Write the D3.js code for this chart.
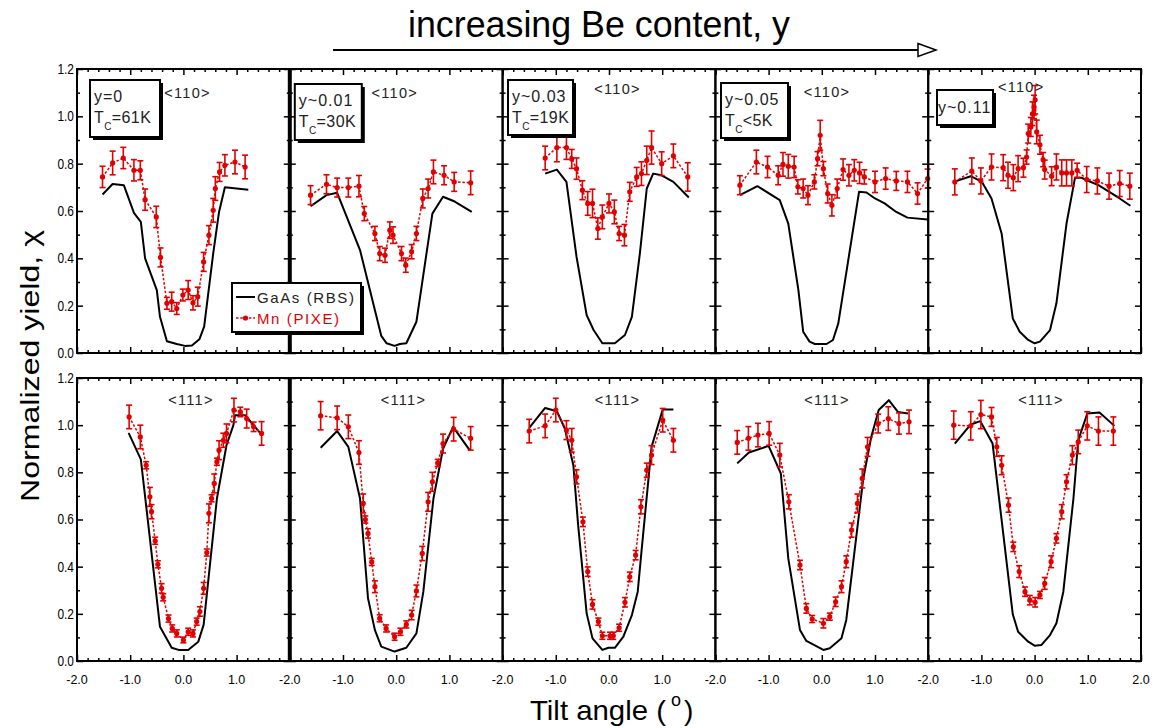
<!DOCTYPE html>
<html><head><meta charset="utf-8">
<script src="https://cdn.jsdelivr.net/npm/d3@7"></script>
<style>
body{margin:0;background:#fff}
svg{display:block;font-family:"Liberation Sans",Arial,sans-serif}
</style>
</head><body>
<svg id="chart" width="1162" height="728"></svg>
<script>
// ---------------- DATA ----------------
const yTickLabels = ["0.0","0.2","0.4","0.6","0.8","1.0","1.2"];
const xTickLabels = ["-2.0","-1.0","0.0","1.0","2.0"];
const compositions = ["y=0","y~0.01","y~0.03","y~0.05","y~0.11"];
const curieTemps = ["=61K","=30K","=19K","<5K",null];
const channels = ["<110>","<111>"];
const legendLabels = ["GaAs (RBS)","Mn (PIXE)"];

// <110> row : GaAs RBS [angle, yield]
const rbs110_y0   = [[-1.52,0.67],[-1.33,0.714],[-1.12,0.709],[-0.93,0.592],[-0.80,0.554],[-0.72,0.40],[-0.50,0.266],[-0.44,0.153],[-0.31,0.05],[-0.125,0.038],[0.03,0.03],[0.16,0.032],[0.30,0.058],[0.39,0.111],[0.56,0.42],[0.67,0.596],[0.78,0.70],[1.22,0.69]];
const rbs110_y001 = [[-1.61,0.62],[-1.31,0.667],[-1.11,0.677],[-0.68,0.435],[-0.40,0.181],[-0.28,0.072],[-0.18,0.041],[-0.03,0.03],[0.07,0.038],[0.19,0.041],[0.38,0.132],[0.68,0.589],[0.88,0.66],[1.10,0.64],[1.42,0.596]];
const rbs110_y003 = [[-1.20,0.758],[-0.98,0.775],[-0.80,0.723],[-0.61,0.406],[-0.42,0.16],[-0.29,0.097],[-0.125,0.041],[0.11,0.041],[0.30,0.076],[0.43,0.153],[0.58,0.42],[0.71,0.695],[0.83,0.758],[0.99,0.751],[1.21,0.723],[1.50,0.657]];
const rbs110_y005 = [[-1.54,0.667],[-1.21,0.705],[-0.79,0.646],[-0.63,0.547],[-0.44,0.266],[-0.35,0.09],[-0.23,0.048],[-0.13,0.038],[0.09,0.038],[0.21,0.055],[0.31,0.125],[0.70,0.681],[0.84,0.678],[1.00,0.653],[1.18,0.632],[1.40,0.596],[1.61,0.572],[1.99,0.564]];
const rbs110_y011 = [[-1.52,0.723],[-1.20,0.747],[-0.99,0.723],[-0.81,0.653],[-0.62,0.505],[-0.41,0.146],[-0.28,0.09],[-0.12,0.055],[0.0,0.041],[0.10,0.048],[0.29,0.097],[0.41,0.21],[0.60,0.547],[0.76,0.741],[0.88,0.741],[0.98,0.73],[1.20,0.709],[1.60,0.653],[1.80,0.622]];

// <110> row : Mn PIXE [angle, yield, error]
const pixe110_y0   = [[-1.52,0.744,0.045],[-1.33,0.803,0.05],[-1.13,0.824,0.045],[-0.93,0.772,0.045],[-0.81,0.772,0.04],[-0.72,0.648,0.045],[-0.51,0.575,0.045],[-0.43,0.404,0.04],[-0.31,0.21,0.025],[-0.22,0.217,0.04],[-0.125,0.188,0.025],[-0.01,0.245,0.025],[0.09,0.266,0.04],[0.18,0.212,0.03],[0.27,0.238,0.04],[0.38,0.385,0.04],[0.48,0.498,0.04],[0.56,0.603,0.05],[0.60,0.695,0.05],[0.68,0.765,0.04],[0.78,0.793,0.045],[0.97,0.807,0.05],[1.16,0.786,0.05]];
const pixe110_y001 = [[-1.61,0.667,0.04],[-1.31,0.713,0.04],[-1.11,0.699,0.04],[-0.90,0.699,0.04],[-0.70,0.705,0.045],[-0.60,0.589,0.03],[-0.40,0.505,0.03],[-0.31,0.42,0.03],[-0.21,0.413,0.03],[-0.12,0.519,0.035],[-0.06,0.498,0.035],[0.10,0.42,0.03],[0.18,0.371,0.03],[0.29,0.428,0.03],[0.38,0.505,0.03],[0.50,0.653,0.04],[0.60,0.695,0.04],[0.70,0.765,0.05],[0.90,0.751,0.04],[1.09,0.723,0.04],[1.40,0.719,0.05]];
const pixe110_y003 = [[-1.20,0.824,0.05],[-0.98,0.868,0.06],[-0.80,0.868,0.05],[-0.70,0.82,0.04],[-0.61,0.779,0.045],[-0.50,0.688,0.04],[-0.40,0.632,0.05],[-0.31,0.632,0.06],[-0.21,0.526,0.045],[-0.125,0.575,0.05],[0.0,0.632,0.04],[0.10,0.596,0.05],[0.19,0.505,0.03],[0.29,0.498,0.045],[0.39,0.681,0.04],[0.52,0.744,0.04],[0.61,0.758,0.05],[0.71,0.814,0.06],[0.80,0.868,0.07],[0.99,0.80,0.05],[1.21,0.833,0.05],[1.48,0.744,0.06]];
const pixe110_y005 = [[-1.54,0.709,0.04],[-1.23,0.807,0.05],[-1.02,0.786,0.045],[-0.82,0.751,0.04],[-0.73,0.797,0.05],[-0.63,0.789,0.05],[-0.52,0.786,0.045],[-0.45,0.702,0.03],[-0.35,0.695,0.04],[-0.26,0.667,0.04],[-0.14,0.723,0.03],[-0.08,0.821,0.03],[-0.03,0.92,0.063],[0.03,0.779,0.03],[0.11,0.674,0.04],[0.19,0.624,0.045],[0.29,0.695,0.04],[0.40,0.775,0.045],[0.51,0.751,0.045],[0.61,0.772,0.045],[0.71,0.761,0.045],[0.80,0.744,0.03],[1.00,0.723,0.045],[1.20,0.737,0.045],[1.40,0.727,0.04],[1.61,0.723,0.045],[1.80,0.674,0.045],[1.99,0.737,0.04]];
const pixe110_y011 = [[-1.50,0.723,0.055],[-1.18,0.769,0.055],[-1.01,0.727,0.055],[-0.81,0.786,0.055],[-0.59,0.783,0.055],[-0.50,0.751,0.055],[-0.40,0.741,0.055],[-0.31,0.779,0.055],[-0.21,0.783,0.04],[-0.15,0.828,0.03],[-0.12,0.927,0.04],[-0.07,0.955,0.04],[-0.04,1.011,0.05],[-0.01,1.039,0.05],[0.01,1.07,0.06],[0.04,0.934,0.05],[0.10,0.88,0.04],[0.16,0.817,0.03],[0.19,0.775,0.04],[0.32,0.747,0.04],[0.41,0.786,0.055],[0.51,0.761,0.055],[0.60,0.761,0.055],[0.70,0.761,0.055],[0.80,0.772,0.03],[0.98,0.733,0.055],[1.18,0.727,0.055],[1.40,0.705,0.055],[1.60,0.716,0.055],[1.79,0.705,0.055]];

// <111> row : GaAs RBS
const rbs111_y0   = [[-1.03,0.967],[-0.80,0.855],[-0.44,0.145],[-0.22,0.056],[-0.09,0.047],[0.09,0.047],[0.28,0.082],[0.38,0.153],[0.63,0.689],[0.81,0.915],[0.94,1.00],[0.97,1.042],[1.16,1.042],[1.47,0.96]];
const rbs111_y001 = [[-1.42,0.904],[-1.11,0.975],[-0.90,0.908],[-0.68,0.689],[-0.53,0.266],[-0.40,0.131],[-0.28,0.061],[-0.03,0.04],[0.19,0.056],[0.38,0.117],[0.51,0.294],[0.70,0.689],[0.88,0.90],[1.07,0.993],[1.38,0.894]];
const rbs111_y003 = [[-1.50,0.989],[-1.20,1.073],[-0.98,1.059],[-0.83,0.986],[-0.67,0.83],[-0.58,0.576],[-0.42,0.202],[-0.31,0.096],[-0.125,0.047],[-0.01,0.056],[0.11,0.056],[0.27,0.103],[0.43,0.195],[0.54,0.294],[0.61,0.463],[0.80,0.908],[1.01,1.066],[1.21,1.066]];
const rbs111_y005 = [[-1.59,0.838],[-1.37,0.884],[-1.00,0.912],[-0.77,0.795],[-0.63,0.435],[-0.41,0.131],[-0.29,0.085],[0.03,0.047],[0.15,0.054],[0.37,0.096],[0.46,0.174],[0.78,0.774],[0.93,0.951],[1.07,1.064],[1.26,1.106],[1.43,1.056],[1.62,1.049]];
const rbs111_y011 = [[-1.50,0.922],[-1.20,1.003],[-1.02,1.017],[-0.79,0.922],[-0.41,0.198],[-0.31,0.124],[-0.12,0.082],[0.0,0.065],[0.13,0.068],[0.29,0.11],[0.41,0.16],[0.54,0.294],[0.73,0.689],[0.82,0.936],[0.99,1.049],[1.22,1.054],[1.50,0.997]];

// <111> row : Mn PIXE
const pixe111_y0   = [[-1.02,1.035,0.05],[-0.81,0.95,0.05],[-0.70,0.83,0.015],[-0.63,0.696,0.04],[-0.60,0.633,0.03],[-0.53,0.51,0.015],[-0.48,0.41,0.015],[-0.41,0.308,0.02],[-0.38,0.27,0.015],[-0.28,0.18,0.015],[-0.21,0.138,0.015],[-0.125,0.117,0.015],[0.0,0.089,0.012],[0.09,0.124,0.015],[0.18,0.117,0.015],[0.25,0.167,0.015],[0.31,0.21,0.02],[0.38,0.308,0.025],[0.44,0.46,0.015],[0.48,0.626,0.04],[0.53,0.69,0.015],[0.58,0.753,0.04],[0.63,0.845,0.015],[0.67,0.894,0.04],[0.75,0.936,0.03],[0.81,0.965,0.04],[0.95,1.064,0.05],[1.07,1.056,0.02],[1.19,1.028,0.04],[1.32,0.993,0.02],[1.47,0.965,0.05]];
const pixe111_y001 = [[-1.42,1.04,0.06],[-1.11,1.031,0.05],[-0.90,0.993,0.05],[-0.70,0.884,0.05],[-0.62,0.668,0.04],[-0.58,0.60,0.015],[-0.53,0.541,0.02],[-0.46,0.42,0.015],[-0.40,0.315,0.025],[-0.31,0.181,0.015],[-0.19,0.138,0.015],[-0.03,0.103,0.015],[0.08,0.124,0.015],[0.19,0.155,0.015],[0.29,0.195,0.02],[0.38,0.297,0.025],[0.49,0.456,0.03],[0.60,0.675,0.04],[0.68,0.76,0.04],[0.78,0.84,0.015],[0.88,0.922,0.04],[1.08,0.983,0.05],[1.40,0.944,0.05]];
const pixe111_y003 = [[-1.50,0.975,0.05],[-1.20,0.997,0.05],[-1.00,1.064,0.05],[-0.80,0.979,0.04],[-0.70,0.936,0.05],[-0.61,0.781,0.03],[-0.49,0.59,0.02],[-0.40,0.379,0.02],[-0.31,0.24,0.02],[-0.20,0.167,0.015],[-0.125,0.107,0.015],[0.02,0.107,0.015],[0.08,0.107,0.015],[0.19,0.141,0.015],[0.30,0.249,0.02],[0.39,0.357,0.02],[0.50,0.449,0.02],[0.60,0.654,0.03],[0.71,0.809,0.03],[0.80,0.873,0.04],[1.01,1.021,0.05],[1.21,0.936,0.05]];
const pixe111_y005 = [[-1.59,0.927,0.05],[-1.38,0.944,0.05],[-1.20,0.958,0.05],[-0.99,0.965,0.05],[-0.79,0.873,0.05],[-0.62,0.675,0.03],[-0.41,0.407,0.02],[-0.29,0.223,0.02],[-0.18,0.178,0.015],[0.03,0.16,0.02],[0.15,0.188,0.015],[0.26,0.251,0.02],[0.37,0.315,0.025],[0.46,0.421,0.025],[0.56,0.555,0.03],[0.67,0.668,0.04],[0.76,0.774,0.04],[0.86,0.908,0.04],[1.06,1.007,0.04],[1.25,1.028,0.05],[1.45,1.007,0.045],[1.64,1.014,0.05]];
const pixe111_y011 = [[-1.52,1.0,0.06],[-1.20,0.997,0.06],[-1.01,1.045,0.06],[-0.81,1.035,0.04],[-0.71,0.908,0.04],[-0.62,0.83,0.04],[-0.49,0.661,0.03],[-0.40,0.484,0.02],[-0.29,0.379,0.025],[-0.18,0.294,0.02],[-0.09,0.258,0.02],[0.01,0.249,0.02],[0.10,0.28,0.015],[0.19,0.329,0.025],[0.31,0.421,0.025],[0.41,0.52,0.02],[0.51,0.633,0.03],[0.60,0.76,0.03],[0.71,0.873,0.04],[0.82,0.929,0.05],[0.99,0.997,0.06],[1.20,0.975,0.06],[1.48,0.975,0.06]];

// ---------------- LAYOUT ----------------
const svg = d3.select("#chart");
const RED = "#e00000";
const colLeft = 77, colW = 212.8;
const rowsPx = [{top:69,bottom:353},{top:378,bottom:661}];

const rbsSets  = [[rbs110_y0,rbs110_y001,rbs110_y003,rbs110_y005,rbs110_y011],[rbs111_y0,rbs111_y001,rbs111_y003,rbs111_y005,rbs111_y011]];
const pixeSets = [[pixe110_y0,pixe110_y001,pixe110_y003,pixe110_y005,pixe110_y011],[pixe111_y0,pixe111_y001,pixe111_y003,pixe111_y005,pixe111_y011]];

// annotation placement (relative to panel top-left)
const boxPlace = [[13,11,70,57],[5,15,67,56],[5.4,11,65,55],[5.6,14,67,55],[8.8,21,56,35]];
const dirPlace110 = [[110.5,28],[105,28],[115,24],[111.6,27],[93,22]];
const dirPlace111 = [[114,26],[113.7,26],[115,26],[111.6,26],[112.8,26]];

const xMajor = d3.range(-2, 2.001, 1);
const xMinor = d3.range(-2, 2.001, 0.2).filter(v => Math.abs(v - Math.round(v)) > 1e-6);
const yMajor = d3.range(0, 1.2001, 0.2);
const yMinor = d3.range(0.1, 1.2, 0.2);

function addTicks(g, axis){
  g.call(axis);
  g.select(".domain").remove();
  g.selectAll(".tick line").attr("stroke","#000").attr("stroke-width",1.5);
}

const lineGen = (x,y) => d3.line().x(d=>x(d[0])).y(d=>y(d[1]));

for (let r=0; r<2; r++){
  for (let c=0; c<5; c++){
    const L = colLeft + c*colW, R = L + colW;
    const {top, bottom} = rowsPx[r];
    const x = d3.scaleLinear().domain([-2,2]).range([L,R]);
    const y = d3.scaleLinear().domain([0,1.2]).range([bottom,top]);
    const g = svg.append("g");

    // ticks (inward on all sides)
    addTicks(g.append("g").attr("transform",`translate(0,${bottom})`), d3.axisBottom(x).tickValues(xMajor).tickSize(-6).tickFormat(""));
    addTicks(g.append("g").attr("transform",`translate(0,${bottom})`), d3.axisBottom(x).tickValues(xMinor).tickSize(-3).tickFormat(""));
    addTicks(g.append("g").attr("transform",`translate(0,${top})`), d3.axisTop(x).tickValues(xMajor).tickSize(-6).tickFormat(""));
    addTicks(g.append("g").attr("transform",`translate(0,${top})`), d3.axisTop(x).tickValues(xMinor).tickSize(-3).tickFormat(""));
    addTicks(g.append("g").attr("transform",`translate(${L},0)`), d3.axisLeft(y).tickValues(yMajor).tickSize(-6).tickFormat(""));
    addTicks(g.append("g").attr("transform",`translate(${L},0)`), d3.axisLeft(y).tickValues(yMinor).tickSize(-3).tickFormat(""));
    addTicks(g.append("g").attr("transform",`translate(${R},0)`), d3.axisRight(y).tickValues(yMajor).tickSize(-6).tickFormat(""));
    addTicks(g.append("g").attr("transform",`translate(${R},0)`), d3.axisRight(y).tickValues(yMinor).tickSize(-3).tickFormat(""));

    // y tick labels on first column
    if (c===0){
      g.selectAll(".ylab").data(yMajor).join("text")
        .attr("x", L-3).attr("y", d=>y(d)+5)
        .attr("text-anchor","end").attr("font-size",14)
        .attr("transform", d=>`translate(${(L-3)*0.15},0) scale(0.85,1)`)
        .text((d,i)=>yTickLabels[i]);
    }
    // x tick labels on bottom row
    if (r===1){
      const vals = c===4 ? xMajor : xMajor.slice(0,4);
      g.selectAll(".xlab").data(vals).join("text")
        .attr("x", d=>x(d)).attr("y", bottom+23)
        .attr("text-anchor","middle").attr("font-size",12.5)
        .text(d=>xTickLabels[xMajor.indexOf(d)]);
    }

    // RBS line
    g.append("path").datum(rbsSets[r][c])
      .attr("d", lineGen(x,y)).attr("fill","none")
      .attr("stroke","#000").attr("stroke-width",2).attr("stroke-linejoin","round");

    // PIXE
    const pd = pixeSets[r][c];
    g.append("path").datum(pd)
      .attr("d", lineGen(x,y)).attr("fill","none")
      .attr("stroke",RED).attr("stroke-width",1.5).attr("stroke-dasharray","2.5,1.8");
    const eb = g.append("g").attr("stroke",RED).attr("stroke-width",1.6);
    pd.forEach(d=>{
      const px = x(d[0]), y1 = y(d[1]-d[2]), y2 = y(d[1]+d[2]);
      eb.append("line").attr("x1",px).attr("x2",px).attr("y1",y1).attr("y2",y2);
      eb.append("line").attr("x1",px-3).attr("x2",px+3).attr("y1",y1).attr("y2",y1);
      eb.append("line").attr("x1",px-3).attr("x2",px+3).attr("y1",y2).attr("y2",y2);
    });
    g.selectAll(".pt").data(pd).join("circle")
      .attr("cx",d=>x(d[0])).attr("cy",d=>y(d[1])).attr("r",2.6).attr("fill",RED);

    // frame
    g.append("rect").attr("x",L).attr("y",top).attr("width",colW).attr("height",bottom-top)
      .attr("fill","none").attr("stroke","#000").attr("stroke-width",2);

    // channel label
    const dp = r===0 ? dirPlace110[c] : dirPlace111[c];
    g.append("text").attr("x",L+dp[0]).attr("y",top+dp[1]+1)
      .attr("text-anchor","middle").attr("font-size",14.5).attr("letter-spacing",1.3)
      .attr("fill","#222").text(channels[r]);

    // composition box (top row)
    if (r===0){
      const b = boxPlace[c];
      const bx = L+b[0], by = top+b[1];
      g.append("rect").attr("x",bx+3).attr("y",by+3).attr("width",b[2]).attr("height",b[3]).attr("fill","#000");
      g.append("rect").attr("x",bx).attr("y",by).attr("width",b[2]).attr("height",b[3])
        .attr("fill","#fff").attr("stroke","#000").attr("stroke-width",2);
      if (curieTemps[c]!==null){
        g.append("text").attr("x",bx+4).attr("y",by+22).attr("font-size",16).attr("letter-spacing",1)
          .attr("fill","#222").text(compositions[c]);
        const t = g.append("text").attr("x",bx+4).attr("y",by+43).attr("font-size",16).attr("letter-spacing",0.4).attr("fill","#222");
        t.append("tspan").text("T");
        t.append("tspan").attr("font-size",10).attr("dy",7).text("C");
        t.append("tspan").attr("dy",-7).text(curieTemps[c]);
      } else {
        g.append("text").attr("x",bx+1).attr("y",by+23).attr("font-size",16).attr("letter-spacing",1)
          .attr("fill","#222").text(compositions[c]);
      }
    }
  }
}

// thicker divider between first and second columns
rowsPx.forEach(rw=>{
  svg.append("line").attr("x1",colLeft+colW).attr("x2",colLeft+colW).attr("y1",rw.top).attr("y2",rw.bottom)
    .attr("stroke","#000").attr("stroke-width",4);
});

// legend
const lg = svg.append("g");
const lx = 232, ly = 283, lw = 129, lh = 49;
lg.append("rect").attr("x",lx+3).attr("y",ly+3).attr("width",lw).attr("height",lh).attr("fill","#000");
lg.append("rect").attr("x",lx).attr("y",ly).attr("width",lw).attr("height",lh).attr("fill","#fff").attr("stroke","#000").attr("stroke-width",2);
lg.append("line").attr("x1",lx+4).attr("x2",lx+23).attr("y1",ly+14).attr("y2",ly+14).attr("stroke","#000").attr("stroke-width",2);
lg.append("line").attr("x1",lx+4).attr("x2",lx+23).attr("y1",ly+35).attr("y2",ly+35).attr("stroke",RED).attr("stroke-width",1.5).attr("stroke-dasharray","2.5,1.8");
lg.append("line").attr("x1",lx+13.5).attr("x2",lx+13.5).attr("y1",ly+33).attr("y2",ly+37).attr("stroke",RED).attr("stroke-width",1.5);
lg.append("circle").attr("cx",lx+13.5).attr("cy",ly+35).attr("r",2.6).attr("fill",RED);
lg.append("text").attr("x",lx+25).attr("y",ly+19.5).attr("font-size",15).attr("letter-spacing",1.6).attr("fill","#222").text(legendLabels[0]);
lg.append("text").attr("x",lx+25).attr("y",ly+40.5).attr("font-size",15).attr("letter-spacing",1.6).attr("fill",RED).text(legendLabels[1]);

// titles
svg.append("text").attr("x",408).attr("y",37).attr("font-size",36)
  .attr("textLength",382).attr("lengthAdjust","spacingAndGlyphs").text("increasing Be content, y");
svg.append("line").attr("x1",333).attr("x2",920).attr("y1",50).attr("y2",50).attr("stroke","#000").attr("stroke-width",2);
svg.append("path").attr("d","M918,43.5 L936,50 L918,56.5 Z").attr("fill","#fff").attr("stroke","#000").attr("stroke-width",1.5);

svg.append("text").attr("transform","translate(39,366) rotate(-90)").attr("text-anchor","middle")
  .attr("font-size",26).attr("textLength",272).attr("lengthAdjust","spacingAndGlyphs").text("Normalized yield, χ");

svg.append("text").attr("x",530).attr("y",720).attr("font-size",28)
  .attr("textLength",136).attr("lengthAdjust","spacingAndGlyphs").text("Tilt angle (");
svg.append("text").attr("x",671).attr("y",706).attr("font-size",18).text("o");
svg.append("text").attr("x",684).attr("y",720).attr("font-size",28).text(")");
</script>
</body></html>
